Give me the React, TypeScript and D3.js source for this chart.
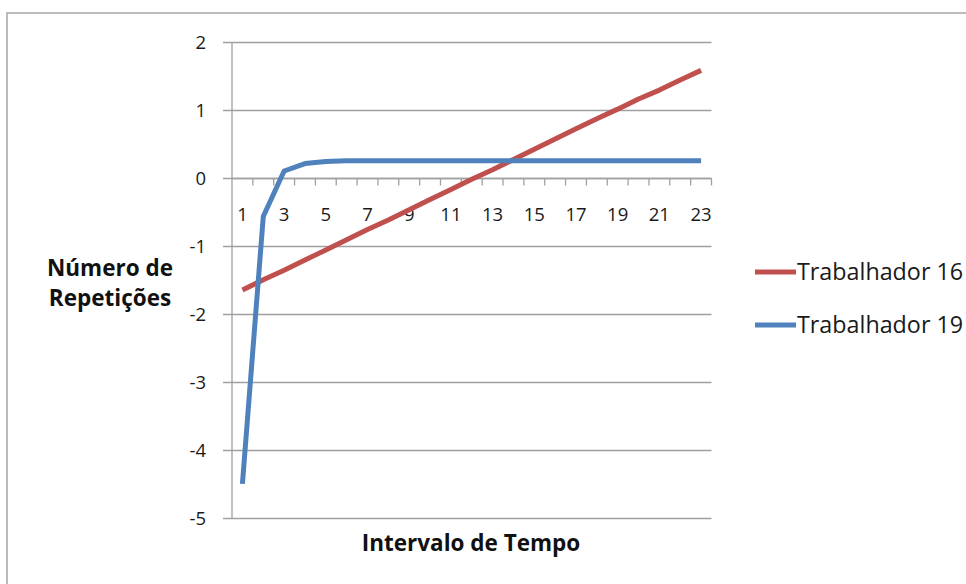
import React from "react";
import * as d3 from "d3";

const categories: number[] = d3.range(1, 24);
const trabalhador16: number[] = [
  -1.64, -1.49, -1.35, -1.2, -1.05, -0.9, -0.75, -0.61, -0.46, -0.31, -0.16, -0.01,
  0.13, 0.28, 0.43, 0.58, 0.73, 0.88, 1.02, 1.17, 1.3, 1.45, 1.59,
];
const trabalhador19: number[] = [
  -4.49, -0.56, 0.11, 0.22, 0.25, 0.26, 0.26, 0.26, 0.26, 0.26, 0.26, 0.26,
  0.26, 0.26, 0.26, 0.26, 0.26, 0.26, 0.26, 0.26, 0.26, 0.26, 0.26,
];
const yTicks: number[] = [2, 1, 0, -1, -2, -3, -4, -5];
const seriesNames: string[] = ["Trabalhador 16", "Trabalhador 19"];
const seriesColors: string[] = ["#C0504D", "#4F81BD"];

const W = 966;
const H = 584;
const left = 232;
const right = 711.5;
const top = 42.5;
const bottom = 518.5;
const FONT = "'Open Sans', Lato, sans-serif";

export default function App() {
  const x = d3
    .scaleBand<number>()
    .domain(categories)
    .range([left, right])
    .paddingInner(0)
    .paddingOuter(0);
  const y = d3.scaleLinear().domain([-5, 2]).range([bottom, top]);
  const xc = (c: number) => (x(c) as number) + x.bandwidth() / 2;

  const line = d3
    .line<number>()
    .x((_, i) => xc(categories[i]))
    .y((d) => y(d));

  const series = [trabalhador16, trabalhador19];
  const y0 = y(0);
  const boundaries = categories.map((c) => (x(c) as number) + x.bandwidth());

  return (
    <svg
      width={W}
      height={H}
      style={{ position: "absolute", left: 0, top: 0, background: "#fff" }}
    >
      <rect x={7} y={13} width={W} height={H} fill="#fff" stroke="#A6A6A6" strokeWidth={1.5} />

      {/* horizontal gridlines and y ticks */}
      {yTicks.map((t) => (
        <g key={t}>
          <line x1={223} x2={right} y1={y(t)} y2={y(t)} stroke="#A0A0A0" strokeWidth={1.3} />
          <text
            x={206}
            y={y(t)}
            dy="0.36em"
            textAnchor="end"
            fontFamily={FONT}
            fontSize={18.5}
            fill="#1a1a1a"
          >
            {t}
          </text>
        </g>
      ))}

      {/* y axis line */}
      <line x1={left} x2={left} y1={top} y2={bottom} stroke="#A0A0A0" strokeWidth={1.3} />

      {/* category axis at zero */}
      <line x1={left} x2={right} y1={y0} y2={y0} stroke="#A0A0A0" strokeWidth={1.3} />
      {boundaries.map((b, i) => (
        <line key={i} x1={b} x2={b} y1={y0} y2={y0 + 7} stroke="#A0A0A0" strokeWidth={1.3} />
      ))}
      {categories
        .filter((c) => c % 2 === 1)
        .map((c) => (
          <text
            key={c}
            x={xc(c)}
            y={y0 + 42}
            textAnchor="middle"
            fontFamily={FONT}
            fontSize={18.5}
            fill="#1a1a1a"
          >
            {c}
          </text>
        ))}

      {/* series lines */}
      {series.map((s, i) => (
        <path
          key={i}
          d={line(s) as string}
          fill="none"
          stroke={seriesColors[i]}
          strokeWidth={5}
          strokeLinejoin="round"
        />
      ))}

      {/* axis titles */}
      <text
        x={110}
        y={276}
        textAnchor="middle"
        fontFamily={FONT}
        fontWeight="bold"
        fontSize={22.5}
        fill="#111"
      >
        Número de
      </text>
      <text
        x={110}
        y={306}
        textAnchor="middle"
        fontFamily={FONT}
        fontWeight="bold"
        fontSize={22.5}
        fill="#111"
      >
        Repetições
      </text>
      <text
        x={471}
        y={551}
        textAnchor="middle"
        fontFamily={FONT}
        fontWeight="bold"
        fontSize={22.5}
        fill="#111"
      >
        Intervalo de Tempo
      </text>

      {/* legend */}
      {seriesNames.map((n, i) => {
        const ly = 272 + i * 53;
        return (
          <g key={n}>
            <line x1={755} x2={796} y1={ly} y2={ly} stroke={seriesColors[i]} strokeWidth={5} />
            <text
              x={797}
              y={ly}
              dy="0.36em"
              fontFamily={FONT}
              fontSize={23.3}
              fill="#1a1a1a"
            >
              {n}
            </text>
          </g>
        );
      })}
    </svg>
  );
}
